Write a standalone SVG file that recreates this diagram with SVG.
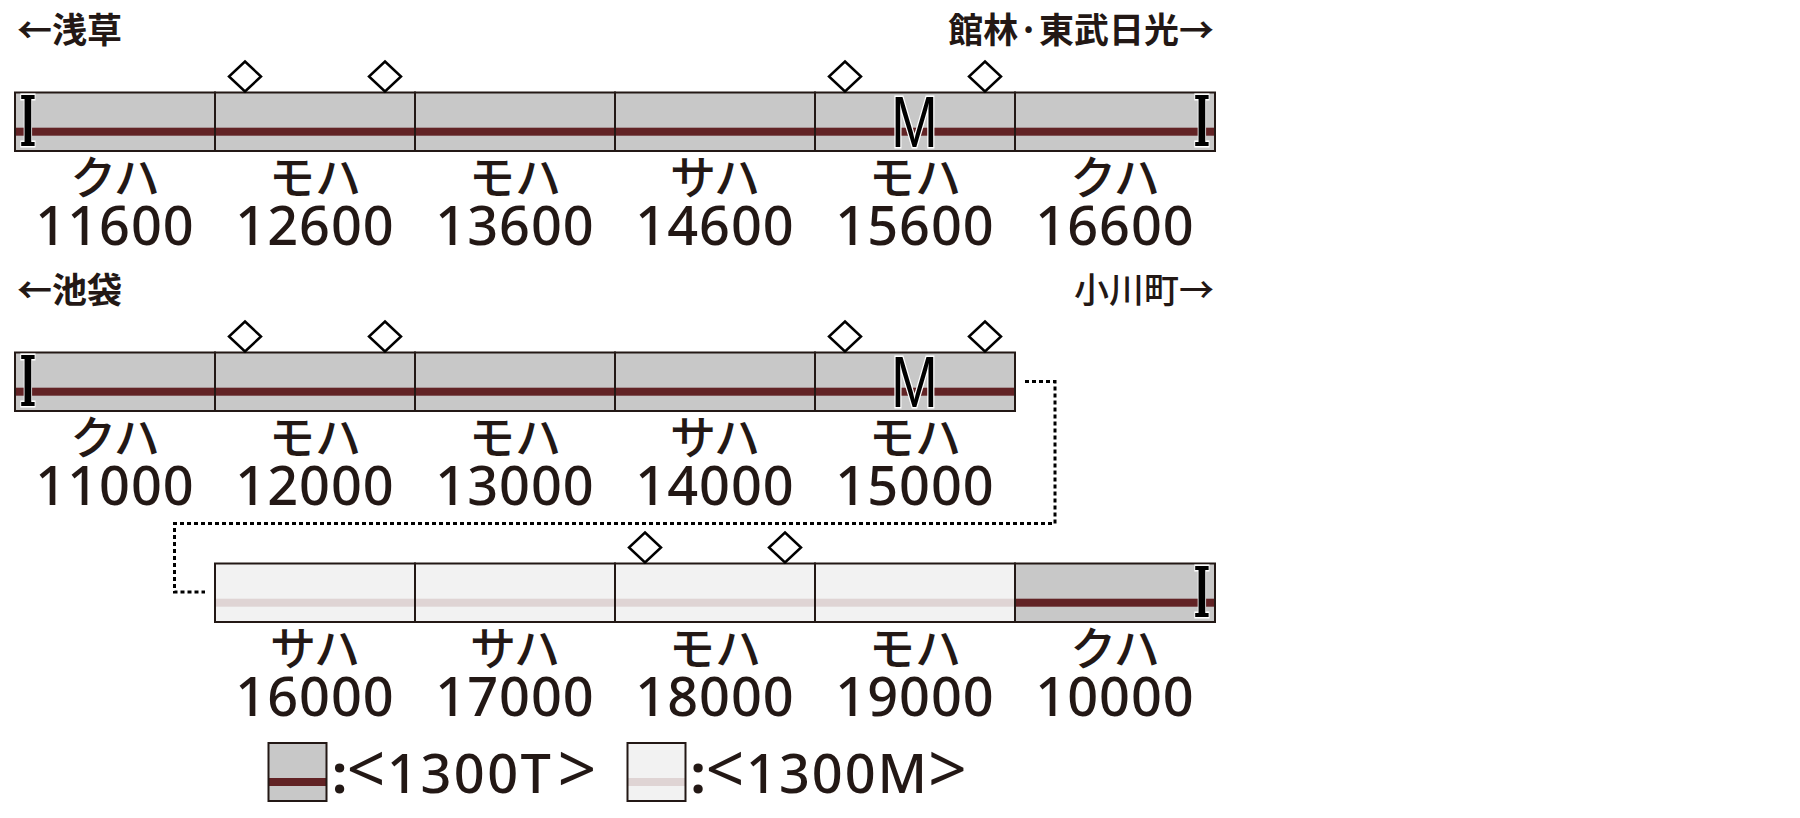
<svg xmlns="http://www.w3.org/2000/svg" width="1800" height="818" viewBox="0 0 1800 818">
<defs>
<style>
.t{fill:#c8c8c8}
.m{fill:#f2f2f2}
.ts{fill:#622325}
.ms{fill:#dfd4d4}
.o{fill:none;stroke:#231815;stroke-width:2}
.pg{fill:#fff;stroke:#000;stroke-width:2.5}
.kana{font-family:"Noto Sans CJK JP","Noto Sans",sans-serif;font-size:46px;font-weight:500;fill:#231815;text-anchor:middle}
.num{font-family:"Noto Sans","Noto Sans CJK JP",sans-serif;font-size:54px;font-weight:500;letter-spacing:1px;fill:#231815;text-anchor:middle}
.hd{font-family:"Noto Sans CJK JP",sans-serif;font-size:35px;font-weight:700;fill:#231815}
.hd2{font-family:"Noto Sans CJK JP",sans-serif;font-size:35px;font-weight:500;fill:#231815}
.cab{font-family:"DejaVu Serif","Liberation Serif",serif;font-weight:700;font-size:69px;fill:#000;stroke:#fff;stroke-width:3;paint-order:stroke;text-anchor:middle}
.mot{font-family:"Liberation Sans",sans-serif;font-size:72px;fill:#000;stroke:#fff;stroke-width:3;paint-order:stroke;text-anchor:middle}
.dot{fill:none;stroke:#000;stroke-width:3;stroke-dasharray:4 3}
.leg{font-family:"Noto Sans","Noto Sans CJK JP",sans-serif;font-size:54px;font-weight:500;fill:#231815}
.lb{font-size:68px;font-weight:400}
.lc{font-weight:700}
</style>
</defs>

<text class="hd" x="17" y="42.5">←浅草</text>
<text class="hd" x="1214" y="42.5" text-anchor="end">館林·東武日光→</text>
<text class="hd" x="17" y="302.5">←池袋</text>
<text class="hd2" x="1214" y="302.5" text-anchor="end">小川町→</text>

<!-- Row 1 -->
<g id="r1c1"><rect class="t" x="15" y="92.5" width="200" height="58.5"/><rect class="ts" x="15" y="127.7" width="200" height="8"/><rect class="o" x="15" y="92.5" width="200" height="58.5"/><text class="cab" transform="translate(28,145.5) scale(0.52,1)">I</text><text class="kana" x="115" y="194">クハ</text><text class="num" x="115" y="245">11600</text></g>
<g id="r1c2"><rect class="t" x="215" y="92.5" width="200" height="58.5"/><rect class="ts" x="215" y="127.7" width="200" height="8"/><rect class="o" x="215" y="92.5" width="200" height="58.5"/><polygon class="pg" points="245,61.5 261,76.5 245,91.5 229,76.5"/><polygon class="pg" points="385,61.5 401,76.5 385,91.5 369,76.5"/><text class="kana" x="315" y="194">モハ</text><text class="num" x="315" y="245">12600</text></g>
<g id="r1c3"><rect class="t" x="415" y="92.5" width="200" height="58.5"/><rect class="ts" x="415" y="127.7" width="200" height="8"/><rect class="o" x="415" y="92.5" width="200" height="58.5"/><text class="kana" x="515" y="194">モハ</text><text class="num" x="515" y="245">13600</text></g>
<g id="r1c4"><rect class="t" x="615" y="92.5" width="200" height="58.5"/><rect class="ts" x="615" y="127.7" width="200" height="8"/><rect class="o" x="615" y="92.5" width="200" height="58.5"/><text class="kana" x="715" y="194">サハ</text><text class="num" x="715" y="245">14600</text></g>
<g id="r1c5"><rect class="t" x="815" y="92.5" width="200" height="58.5"/><rect class="ts" x="815" y="127.7" width="200" height="8"/><rect class="o" x="815" y="92.5" width="200" height="58.5"/><polygon class="pg" points="845,61.5 861,76.5 845,91.5 829,76.5"/><polygon class="pg" points="985,61.5 1001,76.5 985,91.5 969,76.5"/><text class="mot" transform="translate(914.5,146.5) scale(0.78,1)">M</text><text class="kana" x="915" y="194">モハ</text><text class="num" x="915" y="245">15600</text></g>
<g id="r1c6"><rect class="t" x="1015" y="92.5" width="200" height="58.5"/><rect class="ts" x="1015" y="127.7" width="200" height="8"/><rect class="o" x="1015" y="92.5" width="200" height="58.5"/><text class="cab" transform="translate(1202,145.5) scale(0.52,1)">I</text><text class="kana" x="1115" y="194">クハ</text><text class="num" x="1115" y="245">16600</text></g>

<!-- Row 2 -->
<g id="r2c1"><rect class="t" x="15" y="352.5" width="200" height="58.5"/><rect class="ts" x="15" y="387.7" width="200" height="8"/><rect class="o" x="15" y="352.5" width="200" height="58.5"/><text class="cab" transform="translate(28,405.5) scale(0.52,1)">I</text><text class="kana" x="115" y="454">クハ</text><text class="num" x="115" y="505">11000</text></g>
<g id="r2c2"><rect class="t" x="215" y="352.5" width="200" height="58.5"/><rect class="ts" x="215" y="387.7" width="200" height="8"/><rect class="o" x="215" y="352.5" width="200" height="58.5"/><polygon class="pg" points="245,321.5 261,336.5 245,351.5 229,336.5"/><polygon class="pg" points="385,321.5 401,336.5 385,351.5 369,336.5"/><text class="kana" x="315" y="454">モハ</text><text class="num" x="315" y="505">12000</text></g>
<g id="r2c3"><rect class="t" x="415" y="352.5" width="200" height="58.5"/><rect class="ts" x="415" y="387.7" width="200" height="8"/><rect class="o" x="415" y="352.5" width="200" height="58.5"/><text class="kana" x="515" y="454">モハ</text><text class="num" x="515" y="505">13000</text></g>
<g id="r2c4"><rect class="t" x="615" y="352.5" width="200" height="58.5"/><rect class="ts" x="615" y="387.7" width="200" height="8"/><rect class="o" x="615" y="352.5" width="200" height="58.5"/><text class="kana" x="715" y="454">サハ</text><text class="num" x="715" y="505">14000</text></g>
<g id="r2c5"><rect class="t" x="815" y="352.5" width="200" height="58.5"/><rect class="ts" x="815" y="387.7" width="200" height="8"/><rect class="o" x="815" y="352.5" width="200" height="58.5"/><polygon class="pg" points="845,321.5 861,336.5 845,351.5 829,336.5"/><polygon class="pg" points="985,321.5 1001,336.5 985,351.5 969,336.5"/><text class="mot" transform="translate(914.5,406.5) scale(0.78,1)">M</text><text class="kana" x="915" y="454">モハ</text><text class="num" x="915" y="505">15000</text></g>

<!-- Connector -->
<g id="connectors"><path class="dot" d="M1025,381.5 H1055 V523.5 H174.5 V592 H205"/></g>

<!-- Row 3 -->
<g id="r3c1"><rect class="m" x="215" y="563.5" width="200" height="58.5"/><rect class="ms" x="215" y="598.7" width="200" height="8"/><rect class="o" x="215" y="563.5" width="200" height="58.5"/><text class="kana" x="315" y="665">サハ</text><text class="num" x="315" y="716">16000</text></g>
<g id="r3c2"><rect class="m" x="415" y="563.5" width="200" height="58.5"/><rect class="ms" x="415" y="598.7" width="200" height="8"/><rect class="o" x="415" y="563.5" width="200" height="58.5"/><text class="kana" x="515" y="665">サハ</text><text class="num" x="515" y="716">17000</text></g>
<g id="r3c3"><rect class="m" x="615" y="563.5" width="200" height="58.5"/><rect class="ms" x="615" y="598.7" width="200" height="8"/><rect class="o" x="615" y="563.5" width="200" height="58.5"/><polygon class="pg" points="645,532.5 661,547.5 645,562.5 629,547.5"/><polygon class="pg" points="785,532.5 801,547.5 785,562.5 769,547.5"/><text class="kana" x="715" y="665">モハ</text><text class="num" x="715" y="716">18000</text></g>
<g id="r3c4"><rect class="m" x="815" y="563.5" width="200" height="58.5"/><rect class="ms" x="815" y="598.7" width="200" height="8"/><rect class="o" x="815" y="563.5" width="200" height="58.5"/><text class="kana" x="915" y="665">モハ</text><text class="num" x="915" y="716">19000</text></g>
<g id="r3c5"><rect class="t" x="1015" y="563.5" width="200" height="58.5"/><rect class="ts" x="1015" y="598.7" width="200" height="8"/><rect class="o" x="1015" y="563.5" width="200" height="58.5"/><text class="cab" transform="translate(1202,616.5) scale(0.52,1)">I</text><text class="kana" x="1115" y="665">クハ</text><text class="num" x="1115" y="716">10000</text></g>

<!-- Legend -->
<g id="legend-t"><rect class="t" x="268.5" y="743" width="58" height="58"/><rect class="ts" x="268.5" y="778" width="58" height="8"/><rect class="o" x="268.5" y="743" width="58" height="58"/><text class="leg" y="793"><tspan class="lc" x="339.5" text-anchor="middle">:</tspan><tspan class="lb" x="366" text-anchor="middle">&lt;</tspan><tspan x="387" letter-spacing="2.5">1300T</tspan><tspan class="lb" x="577" text-anchor="middle">&gt;</tspan></text></g>
<g id="legend-m"><rect class="m" x="627.5" y="743" width="58" height="58"/><rect class="ms" x="627.5" y="778" width="58" height="8"/><rect class="o" x="627.5" y="743" width="58" height="58"/><text class="leg" y="793"><tspan class="lc" x="698" text-anchor="middle">:</tspan><tspan class="lb" x="725" text-anchor="middle">&lt;</tspan><tspan x="746" letter-spacing="2">1300M</tspan><tspan class="lb" x="947.5" text-anchor="middle">&gt;</tspan></text></g>
</svg>
